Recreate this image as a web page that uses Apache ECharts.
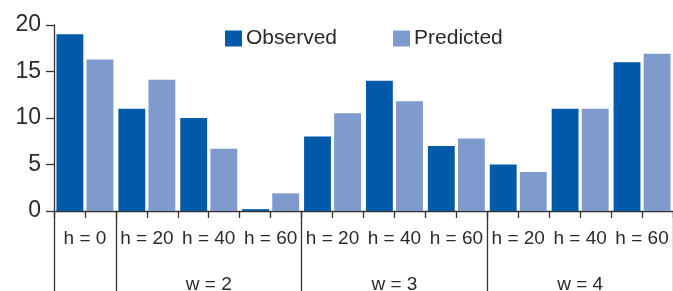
<!DOCTYPE html>
<html>
<head>
<meta charset="utf-8">
<script src="https://cdn.jsdelivr.net/npm/echarts@6/dist/echarts.min.js"></script>
<style>
    html, body { margin: 0; padding: 0; background: #fff; }
    #main { width: 673px; height: 291px; }
</style>
</head>
<body>
<div id="main"></div>
<script>
// data
var categories = ['h = 0', 'h = 20', 'h = 40', 'h = 60', 'h = 20', 'h = 40', 'h = 60', 'h = 20', 'h = 40', 'h = 60'];
var observed = [19, 11, 10, 0.2, 8, 14, 7, 5, 11, 16];
var predicted = [16.3, 14.1, 6.7, 1.9, 10.5, 11.8, 7.8, 4.2, 11, 16.9];
var groupNames = ['w = 2', 'w = 3', 'w = 4'];
var groupStarts = [1, 4, 7];
var groupSize = 3;
var yTicks = [0, 5, 10, 15, 20];

var textColor = '#2b2b2b';
var lineColor = '#333';
var fontName = '"Liberation Sans", Arial, sans-serif';

function mainCanvas() {
    var myChart = echarts.init(document.getElementById('main'));

    // group label row: one label in the middle of each group
    var groupRow = categories.map(function () { return ''; });
    var boundaries = [0];
    for (var g = 0; g < groupNames.length; g++) {
        groupRow[groupStarts[g] + Math.floor(groupSize / 2)] = groupNames[g];
        boundaries.push(groupStarts[g]);
    }
    // one short tick per bar
    var halfTicks = [];
    for (var i = 0; i < categories.length * 2; i++) {
        halfTicks.push('t' + i);
    }

    var option = {
        animation: false,
        textStyle: { fontFamily: fontName },
        legend: {
            data: ['Observed', 'Predicted'],
            icon: 'rect',
            left: 220,
            top: 23,
            itemWidth: 17,
            itemHeight: 16,
            itemGap: 56,
            textStyle: { fontSize: 21, color: textColor, fontFamily: fontName, padding: [0, 0, 0, -1] }
        },
        grid: { left: 54, right: 0, top: 25, bottom: 80, containLabel: false, outerBoundsMode: 'none' },
        xAxis: [{
            type: 'category',
            data: categories,
            position: 'bottom',
            axisLine: { show: true, lineStyle: { color: lineColor, width: 1.3 } },
            axisTick: { show: false },
            axisLabel: { fontSize: 19, color: textColor, margin: 18, interval: 0, fontFamily: fontName }
        }, {
            type: 'category',
            data: halfTicks,
            position: 'bottom',
            axisLine: { show: false },
            axisTick: { show: true, length: 7, interval: 0, lineStyle: { color: lineColor, width: 1.3 } },
            axisLabel: { show: false }
        }, {
            type: 'category',
            data: groupRow,
            position: 'bottom',
            axisLine: { show: false },
            axisTick: {
                show: true,
                length: 82,
                interval: function (index) { return boundaries.indexOf(index) >= 0; },
                lineStyle: { color: lineColor, width: 1.3 }
            },
            axisLabel: { fontSize: 19, color: textColor, margin: 64, interval: 0, fontFamily: fontName }
        }],
        yAxis: {
            type: 'value',
            min: yTicks[0],
            max: yTicks[yTicks.length - 1],
            interval: yTicks[1] - yTicks[0],
            axisLine: { show: true, lineStyle: { color: lineColor, width: 1.3 } },
            axisTick: { show: true, length: 8, lineStyle: { color: lineColor, width: 1.3 } },
            axisLabel: { fontSize: 23, color: textColor, margin: 13, padding: [3, 0, 0, 0], fontFamily: fontName },
            splitLine: { show: false }
        },
        series: [{
            name: 'Observed',
            type: 'bar',
            xAxisIndex: 0,
            data: observed,
            barGap: '12%',
            barCategoryGap: '8%',
            itemStyle: { color: '#005AAA' }
        }, {
            name: 'Predicted',
            type: 'bar',
            xAxisIndex: 0,
            data: predicted,
            itemStyle: { color: '#7F9ACD' }
        }]
    };

    myChart.setOption(option);
}

mainCanvas();
</script>
</body>
</html>
